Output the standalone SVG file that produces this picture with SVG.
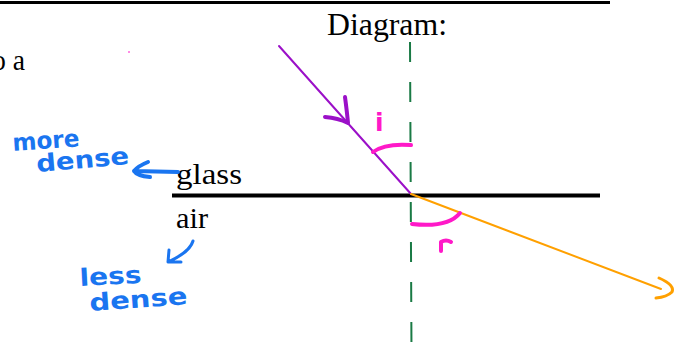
<svg xmlns="http://www.w3.org/2000/svg" width="683" height="357" viewBox="0 0 683 357">
<style>
.serif{font-family:"Liberation Serif","Times New Roman",serif;fill:#000}
.hand{font-family:"DejaVu Sans","Liberation Sans",sans-serif;font-weight:bold;fill:#1a75f0}
.pink{font-family:"DejaVu Sans","Liberation Sans",sans-serif;font-weight:bold;fill:#ff19c8}
.ink{fill:none;stroke-linecap:round;stroke-linejoin:round}
</style>
<rect width="683" height="357" fill="#fff"/>
<g id="rules">
<line x1="0" y1="2.5" x2="610" y2="2.5" stroke="#000" stroke-width="3"/>
<line x1="172" y1="195.5" x2="600" y2="195.5" stroke="#000" stroke-width="4"/>
</g>
<g id="texts">
<text class="serif" x="-8" y="70" font-size="29" textLength="33" lengthAdjust="spacingAndGlyphs">o a</text>
<text class="serif" x="327" y="35" font-size="31" textLength="120" lengthAdjust="spacingAndGlyphs">Diagram:</text>
<text class="serif" x="176" y="184" font-size="29" textLength="66" lengthAdjust="spacingAndGlyphs">glass</text>
<text class="serif" x="176" y="228" font-size="29" textLength="32" lengthAdjust="spacingAndGlyphs">air</text>
</g>
<g id="normal">
<line x1="410" y1="42" x2="411.5" y2="355" stroke="#1a7a45" stroke-width="2" stroke-dasharray="20 20"/>
</g>
<g id="connectors">
<line class="ink" x1="279" y1="46" x2="411" y2="194" stroke="#9b10c8" stroke-width="2"/>
<path class="ink" d="M325 117 Q338 118 348 123 M345 97 Q347 112 348 123" stroke="#9b10c8" stroke-width="4"/>
<line class="ink" x1="411" y1="194" x2="661" y2="289" stroke="#ffa000" stroke-width="2"/>
<path class="ink" d="M659 278 Q675 285 672 292 Q667 297 656 298" stroke="#ffa000" stroke-width="3"/>
</g>
<g id="angles">
<path class="ink" d="M373 152 Q385 143 411 145" stroke="#ff19c8" stroke-width="4"/>
<path class="ink" d="M412 224 Q448 228 460 213" stroke="#ff19c8" stroke-width="4"/>
<text class="pink" x="375" y="131" font-size="25">i</text>
<path class="ink" d="M441 251 L441 242 Q446 239 451 242" stroke="#ff19c8" stroke-width="4"/>
<circle cx="129" cy="52" r="1" fill="#ff66dd"/>
</g>
<g id="annotations">
<text class="hand" x="13" y="151" font-size="24" textLength="67" lengthAdjust="spacingAndGlyphs" transform="rotate(-4 13 151)">more</text>
<text class="hand" x="37" y="172" font-size="24" textLength="93" lengthAdjust="spacingAndGlyphs" transform="rotate(-5 37 172)">dense</text>
<path class="ink" d="M178 172 L134 171 M148 162 Q138 166 134 171 Q137 176 150 177" stroke="#1a75f0" stroke-width="4"/>
<text class="hand" x="80" y="286" font-size="24" textLength="62" lengthAdjust="spacingAndGlyphs" transform="rotate(-3 80 286)">less</text>
<text class="hand" x="90" y="311" font-size="24" textLength="98" lengthAdjust="spacingAndGlyphs" transform="rotate(-4 90 311)">dense</text>
<path class="ink" d="M193 241 Q190 252 168 262 M169 250 L168 262 L181 262" stroke="#1a75f0" stroke-width="3"/>
</g>
</svg>
